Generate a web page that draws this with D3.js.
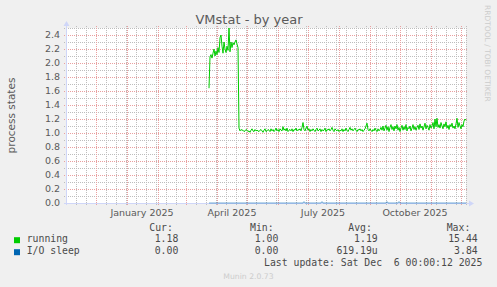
<!DOCTYPE html>
<html><head><meta charset="utf-8">
<script src="https://cdn.jsdelivr.net/npm/d3@7"></script>
<style>body{margin:0;background:#f0f0f0} svg{display:block}</style>
</head><body><svg id="c" width="497" height="287"></svg>
<script>
// ---------- data ----------
const chartTitle = "VMstat - by year";
const yAxisTitle = "process states";
const yTickValues = [0.0, 0.2, 0.4, 0.6, 0.8, 1.0, 1.2, 1.4, 1.6, 1.8, 2.0, 2.2, 2.4];
const yTickLabels = ["0.0","0.2","0.4","0.6","0.8","1.0","1.2","1.4","1.6","1.8","2.0","2.2","2.4"];
const yMax = 2.5;
const rangeEnd = "2025-12-06T00:00:12Z";
const rangeDays = 400;
const xLabelMonths = ["2025-01-01","2025-04-01","2025-07-01","2025-10-01"];
const xLabelTexts = ["January 2025","April 2025","July 2025","October 2025"];
const seriesNames = ["running","I/O sleep"];
const seriesColors = ["#00cc00","#0066b3"];
const dataStart = "2025-03-24";
const running = [
 1.64,2.09,2.12,2.07,2.14,2.20,2.10,2.17,2.12,2.22,
 2.15,2.36,2.40,2.24,2.14,2.30,2.20,2.15,2.24,2.18,
 2.50,2.16,2.30,2.22,2.29,2.26,2.30,2.33,2.27,2.22,
 1.07,1.03,1.05,1.04,1.04,1.02,1.03,1.05,1.04,1.02,
 1.03,1.01,1.04,1.06,1.03,1.02,1.05,1.03,1.04,1.03,
 1.02,1.04,1.05,1.03,1.01,1.04,1.06,1.02,1.03,1.05,
 1.04,1.02,1.06,1.03,1.05,1.02,1.04,1.07,1.03,1.05,
 1.02,1.06,1.04,1.03,1.09,1.04,1.06,1.03,1.07,1.02,
 1.04,1.05,1.03,1.06,1.02,1.05,1.04,1.07,1.03,1.05,
 1.04,1.06,1.03,1.08,1.15,1.05,1.03,1.07,1.10,1.04,
 1.06,1.02,1.05,1.03,1.06,1.04,1.02,1.05,1.07,1.03,
 1.04,1.06,1.02,1.05,1.03,1.04,1.07,1.02,1.05,1.04,
 1.06,1.03,1.05,1.08,1.04,1.02,1.06,1.04,1.03,1.05,
 1.02,1.04,1.03,1.06,1.02,1.05,1.03,1.07,1.04,1.02,
 1.05,1.08,1.04,1.06,1.03,1.05,1.07,1.04,1.02,1.05,
 1.04,1.06,1.03,1.05,1.02,1.04,1.06,1.10,1.14,1.05,
 1.03,1.06,1.04,1.02,1.05,1.03,1.07,1.04,1.02,1.06,
 1.03,1.05,1.08,1.04,1.10,1.03,1.07,1.11,1.04,1.09,
 1.02,1.08,1.12,1.05,1.09,1.03,1.10,1.06,1.12,1.04,
 1.08,1.02,1.07,1.11,1.04,1.09,1.05,1.12,1.03,1.08,
 1.06,1.10,1.03,1.07,1.12,1.05,1.09,1.04,1.08,1.11,
 1.05,1.13,1.07,1.10,1.04,1.09,1.14,1.06,1.11,1.08,
 1.04,1.12,1.07,1.10,1.15,1.06,1.20,1.09,1.21,1.08,
 1.12,1.07,1.15,1.10,1.06,1.13,1.09,1.16,1.07,1.11,
 1.05,1.12,1.09,1.14,1.07,1.10,1.06,1.13,1.21,1.08,
 1.15,1.10,1.06,1.12,1.09,1.17,1.20,1.18
];
const ioSleep = [
 0,0,0,0,0,0,0,0,0,0, 0,0,0,0,0,0,0,0,0,0,
 0,0,0,0,0,0,0,0,0,0, 0,0,0,0,0,0,0,0,0,0,
 0,0,0,0,0,0,0,0,0,0, 0,0,0,0,0,0,0,0,0,0,
 0,0,0,0,0,0,0,0,0,0, 0,0,0,0,0,0,0,0,0,0,
 0,0,0,0,0,0,0,0,0,0, 0,0,0,0,0,0.02,0,0,0,0,
 0,0,0,0,0,0,0,0,0,0, 0,0,0,0.02,0,0,0,0,0,0,
 0,0,0,0,0,0,0,0,0,0, 0,0,0,0,0,0,0,0,0,0,
 0,0,0,0,0,0,0,0,0,0, 0,0,0,0,0,0,0,0,0,0,
 0,0,0,0,0,0,0,0,0,0, 0,0,0,0,0,0,0,0,0.02,0,
 0,0,0,0,0,0,0,0,0,0, 0.02,0,0,0,0,0,0,0,0,0,
 0,0,0,0,0,0,0,0,0,0, 0,0,0,0,0,0,0,0,0,0,
 0,0,0,0,0,0,0,0,0,0, 0,0,0,0,0,0,0,0,0,0,
 0,0,0,0,0,0,0,0,0,0, 0,0,0,0,0,0,0,0
];
const legendCur = ["1.18","0.00"];
const legendMin = ["1.00","0.00"];
const legendAvg = ["1.19","619.19u"];
const legendMax = ["15.44","3.84"];
const legendHeaders = ["Cur:","Min:","Avg:","Max:"];
const lastUpdate = "Last update: Sat Dec  6 00:00:12 2025";
const sideText = "RRDTOOL / TOBI OETIKER";
const footer = "Munin 2.0.73";

// ---------- layout ----------
const X0 = 66, X1 = 466, Y0 = 203, Y1 = 28;
const textCol = "#5a5a5a";
const svg = d3.select("#c");
svg.append("rect").attr("width",497).attr("height",287).attr("fill","#f0f0f0");

const end = new Date(rangeEnd);
const start = d3.utcDay.offset(end, -rangeDays);
const x = d3.scaleUtc().domain([start, end]).range([X0, X1]);
const y = d3.scaleLinear().domain([0, yMax]).range([Y0, Y1]);

svg.append("rect").attr("x",X0).attr("y",Y1).attr("width",X1-X0).attr("height",Y0-Y1).attr("fill","#ffffff");

const grid = svg.append("g").attr("shape-rendering","crispEdges");
const minorCol = "#bdbdbd", majorCol = "#e9a0a0";
const dash = "1,1";
const px = v => Math.round(v) + 0.5;
const yMinor = d3.range(0, 26).map(i => i/10).filter(v => yTickValues.every(t => Math.abs(t-v) > 1e-6));
grid.selectAll(".hm").data(yMinor).join("line")
  .attr("x1",X0-2).attr("x2",X1+2)
  .attr("y1",d=>px(y(d))).attr("y2",d=>px(y(d)))
  .attr("stroke",minorCol).attr("stroke-dasharray",dash);
const months = d3.utcMonth.range(d3.utcMonth.ceil(start), end);
const monthPx = new Set(months.map(d=>Math.round(x(d))));
const startDay = d3.utcDay.floor(start);
const tenDays = d3.utcDay.every(1).range(startDay, end).filter((d,i)=> i % 10 === 0)
  .filter(d => !monthPx.has(Math.round(x(d))) && x(d) > X0 + 1);
grid.selectAll(".vm").data(tenDays).join("line")
  .attr("x1",d=>px(x(d))).attr("x2",d=>px(x(d)))
  .attr("y1",Y1-2).attr("y2",Y0+2)
  .attr("stroke",minorCol).attr("stroke-dasharray",dash);
grid.selectAll(".hM").data(yTickValues.filter(v=>v>0)).join("line")
  .attr("x1",X0-2).attr("x2",X1+2)
  .attr("y1",d=>px(y(d))).attr("y2",d=>px(y(d)))
  .attr("stroke",majorCol).attr("stroke-dasharray",dash);
grid.selectAll(".vM").data(months).join("line")
  .attr("x1",d=>px(x(d))).attr("x2",d=>px(x(d)))
  .attr("y1",Y1-2).attr("y2",Y0+3)
  .attr("stroke",majorCol).attr("stroke-dasharray",dash);

svg.append("g").selectAll("text").data(yTickValues).join("text")
  .attr("x",60).attr("y",d=>y(d)+3.4).attr("text-anchor","end")
  .attr("font-family","DejaVu Sans").attr("font-size",9.5).attr("fill",textCol)
  .text((d,i)=>yTickLabels[i]);
svg.append("g").selectAll("text").data(xLabelMonths).join("text")
  .attr("x",d=>x(d3.utcDay.offset(new Date(d+"T00:00:00Z"),15))).attr("y",215.5)
  .attr("text-anchor","middle")
  .attr("font-family","DejaVu Sans").attr("font-size",9.5).attr("fill",textCol)
  .text((d,i)=>xLabelTexts[i]);

const dates = running.map((v,i)=>d3.utcDay.offset(new Date(dataStart+"T00:00:00Z"), i));
const line = d3.line().x((d,i)=>x(dates[i])).y(d=>y(d));

const axisCol = "#cfd6f8";
svg.append("line").attr("x1",X0+0.5).attr("x2",X0+0.5).attr("y1",Y0+2).attr("y2",Y1-3)
  .attr("stroke",axisCol).attr("shape-rendering","crispEdges");
svg.append("line").attr("x1",X0-2).attr("x2",X1+3).attr("y1",Y0+0.5).attr("y2",Y0+0.5)
  .attr("stroke",axisCol).attr("shape-rendering","crispEdges");
svg.append("path").attr("d",`M${X0+0.5-3},${Y1-2} L${X0+0.5+3},${Y1-2} L${X0+0.5},${Y1-7} Z`).attr("fill",axisCol);
svg.append("path").attr("d",`M${X1+3},${Y0+0.5-3} L${X1+3},${Y0+0.5+3} L${X1+8},${Y0+0.5} Z`).attr("fill",axisCol);

svg.append("path").attr("d",line(ioSleep)).attr("fill","none").attr("stroke",seriesColors[1]).attr("stroke-width",1).attr("opacity",0.55);
svg.append("path").attr("d",line(running)).attr("fill","none").attr("stroke",seriesColors[0]).attr("stroke-width",1);

svg.append("text").attr("x",249).attr("y",23.5).attr("text-anchor","middle")
  .attr("font-family","DejaVu Sans").attr("font-size",13).attr("fill",textCol).text(chartTitle);
svg.append("text").attr("transform",`translate(14.5,${(Y0+Y1)/2}) rotate(-90)`).attr("text-anchor","middle")
  .attr("font-family","DejaVu Sans").attr("font-size",10.5).attr("fill",textCol).text(yAxisTitle);
svg.append("text").attr("transform","translate(485,5) rotate(90)").attr("text-anchor","start")
  .attr("font-family","DejaVu Sans").attr("font-size",7.5).attr("fill","#cccccc").text(sideText);

const mono = "DejaVu Sans Mono", lfs = 9.8, legCol = "#4a4a4a";
const hdrX = [149.3, 250, 348.3, 446.7];
svg.append("g").selectAll("text").data(legendHeaders).join("text")
  .attr("x",(d,i)=>hdrX[i]).attr("y",230.8).attr("font-family",mono).attr("font-size",lfs).attr("fill",legCol).text(d=>d);
const rowY = [242.2, 254.2];
const colRight = [178.3, 278.3, 377.7, 477.7];
const cols = [legendCur, legendMin, legendAvg, legendMax];
seriesNames.forEach((name, r) => {
  svg.append("rect").attr("x",14).attr("y",rowY[r]-5).attr("width",6).attr("height",6).attr("fill",seriesColors[r]);
  svg.append("text").attr("x",26.7).attr("y",rowY[r]).attr("font-family",mono).attr("font-size",lfs).attr("fill",legCol).text(name);
  cols.forEach((c, k) => {
    svg.append("text").attr("x",colRight[k]).attr("y",rowY[r]).attr("text-anchor","end")
      .attr("font-family",mono).attr("font-size",lfs).attr("fill",legCol).text(c[r]);
  });
});
svg.append("text").attr("x",482.3).attr("y",266.3).attr("text-anchor","end").style("white-space","pre")
  .attr("font-family",mono).attr("font-size",lfs).attr("fill",legCol).text(lastUpdate);
svg.append("text").attr("x",248.5).attr("y",279).attr("text-anchor","middle")
  .attr("font-family","DejaVu Sans").attr("font-size",7.7).attr("fill","#cccccc").text(footer);
</script></body></html>
